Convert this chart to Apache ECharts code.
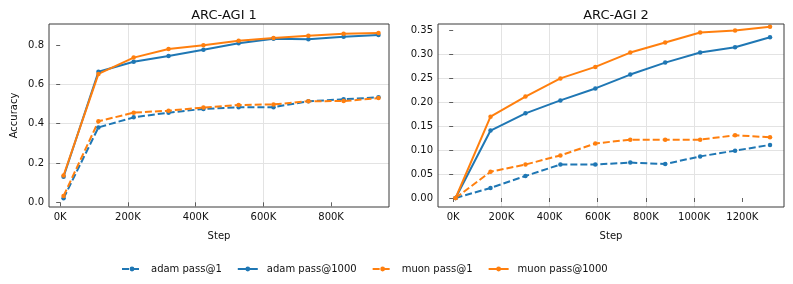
<!DOCTYPE html>
<html><head><meta charset="utf-8">
<script src="https://cdn.jsdelivr.net/npm/echarts@6/dist/echarts.min.js"></script>
<style>html,body{margin:0;padding:0;background:#fff}#c{width:793px;height:284px}</style>
</head><body><div id="c"></div>
<script>
// ---- data ----
const titles = ['ARC-AGI 1', 'ARC-AGI 2'];
const seriesNames = ['adam pass@1', 'adam pass@1000', 'muon pass@1', 'muon pass@1000'];
// steps in thousands
const steps1 = [10, 113, 217, 320, 423, 527, 630, 733, 837, 940];
const steps2 = [10, 155, 300, 445, 590, 735, 880, 1025, 1170, 1315];
const arc1AdamPass1    = [0.020, 0.381, 0.432, 0.456, 0.475, 0.483, 0.484, 0.514, 0.524, 0.534];
const arc1AdamPass1000 = [0.130, 0.664, 0.715, 0.744, 0.776, 0.809, 0.832, 0.829, 0.842, 0.851];
const arc1MuonPass1    = [0.032, 0.412, 0.456, 0.466, 0.482, 0.495, 0.498, 0.514, 0.515, 0.530];
const arc1MuonPass1000 = [0.136, 0.653, 0.736, 0.780, 0.799, 0.822, 0.836, 0.847, 0.858, 0.861];
const arc2AdamPass1    = [0.000, 0.021, 0.046, 0.070, 0.070, 0.074, 0.071, 0.087, 0.099, 0.111];
const arc2AdamPass1000 = [0.000, 0.141, 0.177, 0.204, 0.229, 0.258, 0.283, 0.304, 0.315, 0.336];
const arc2MuonPass1    = [0.000, 0.055, 0.070, 0.089, 0.114, 0.122, 0.122, 0.122, 0.131, 0.127];
const arc2MuonPass1000 = [0.000, 0.170, 0.212, 0.250, 0.274, 0.304, 0.325, 0.346, 0.350, 0.358];
const xTicks1 = [0, 200, 400, 600, 800];
const xTicks2 = [0, 200, 400, 600, 800, 1000, 1200];
const yTicks1 = [0, 0.2, 0.4, 0.6, 0.8];
const yTicks2 = [0, 0.05, 0.10, 0.15, 0.20, 0.25, 0.30, 0.35];

// ---- styling ----
const BLUE = '#1f77b4', ORANGE = '#ff7f0e';
const FONT = 'DejaVu Sans';
const frameColor = '#3a3a3a';
const gridColor = '#e3e3e3';

function pairs(xs, ys) { return xs.map((x, i) => [x, ys[i]]); }

function xAxis(gi, min, max, ticks, splitNumber) {
  return {
    type: 'value', gridIndex: gi, min: min, max: max, splitNumber: splitNumber,
    name: 'Step', nameLocation: 'middle', nameGap: 24,
    nameTextStyle: { fontFamily: FONT, fontSize: 10, color: '#111' },
    axisLine: { show: false },
    axisTick: { show: true, length: 4, customValues: ticks, lineStyle: { color: frameColor, width: 0.8 } },
    axisLabel: { customValues: ticks, margin: 5, fontFamily: FONT, fontSize: 10, color: '#111',
      formatter: v => Math.round(v) + 'K' },
    splitLine: { show: true, showMinLine: false, showMaxLine: false, lineStyle: { color: gridColor, width: 1 } }
  };
}
function yAxis(gi, min, max, ticks, splitNumber, dec, name) {
  return {
    type: 'value', gridIndex: gi, min: min, max: max, splitNumber: splitNumber,
    name: name || '', nameLocation: 'middle', nameGap: 30,
    nameTextStyle: { fontFamily: FONT, fontSize: 10, color: '#111' },
    axisLine: { show: false },
    axisTick: { show: true, length: 4, customValues: ticks, lineStyle: { color: frameColor, width: 0.8 } },
    axisLabel: { customValues: ticks, margin: 5, fontFamily: FONT, fontSize: 10, color: '#111',
      formatter: v => v.toFixed(dec) },
    splitLine: { show: true, showMinLine: false, showMaxLine: false, lineStyle: { color: gridColor, width: 1 } }
  };
}
function line(name, gi, xs, ys, color, dashed) {
  return {
    name: name, type: 'line', xAxisIndex: gi, yAxisIndex: gi,
    data: pairs(xs, ys),
    symbol: 'circle', symbolSize: 4.5,
    itemStyle: { color: color },
    lineStyle: { color: color, width: 2, type: dashed ? [7, 3] : 'solid' },
    emphasis: { disabled: true }, animation: false
  };
}

const chart = echarts.init(document.getElementById('c'), null, { renderer: 'canvas' });
chart.setOption({
  backgroundColor: '#fff',
  animation: false,
  title: [
    { text: titles[0], left: 219, top: 4, textAlign: 'center',
      textStyle: { fontFamily: FONT, fontSize: 13, fontWeight: 'normal', color: '#111' } },
    { text: titles[1], left: 611, top: 4, textAlign: 'center',
      textStyle: { fontFamily: FONT, fontSize: 13, fontWeight: 'normal', color: '#111' } }
  ],
  grid: [
    { left: 49, top: 24, width: 340, height: 183, show: true, borderColor: frameColor, borderWidth: 1, backgroundColor: 'transparent', z: 10 },
    { left: 438, top: 24, width: 346, height: 183, show: true, borderColor: frameColor, borderWidth: 1, backgroundColor: 'transparent', z: 10 }
  ],
  xAxis: [
    xAxis(0, -33, 971, xTicks1, 5),
    xAxis(1, -63, 1373, xTicks2, 7)
  ],
  yAxis: [
    yAxis(0, -0.024, 0.907, yTicks1, 5, 1, 'Accuracy'),
    yAxis(1, -0.0188, 0.3637, yTicks2, 8, 2, '')
  ],
  legend: {
    data: seriesNames, left: 116, top: 259, itemWidth: 20, itemHeight: 6, itemGap: 15,
    textStyle: { fontFamily: FONT, fontSize: 10, color: '#111', padding: [0, 0, 0, 4] }
  },
  series: [
    line(seriesNames[0], 0, steps1, arc1AdamPass1, BLUE, true),
    line(seriesNames[1], 0, steps1, arc1AdamPass1000, BLUE, false),
    line(seriesNames[2], 0, steps1, arc1MuonPass1, ORANGE, true),
    line(seriesNames[3], 0, steps1, arc1MuonPass1000, ORANGE, false),
    line(seriesNames[0], 1, steps2, arc2AdamPass1, BLUE, true),
    line(seriesNames[1], 1, steps2, arc2AdamPass1000, BLUE, false),
    line(seriesNames[2], 1, steps2, arc2MuonPass1, ORANGE, true),
    line(seriesNames[3], 1, steps2, arc2MuonPass1000, ORANGE, false)
  ]
});
</script></body></html>
